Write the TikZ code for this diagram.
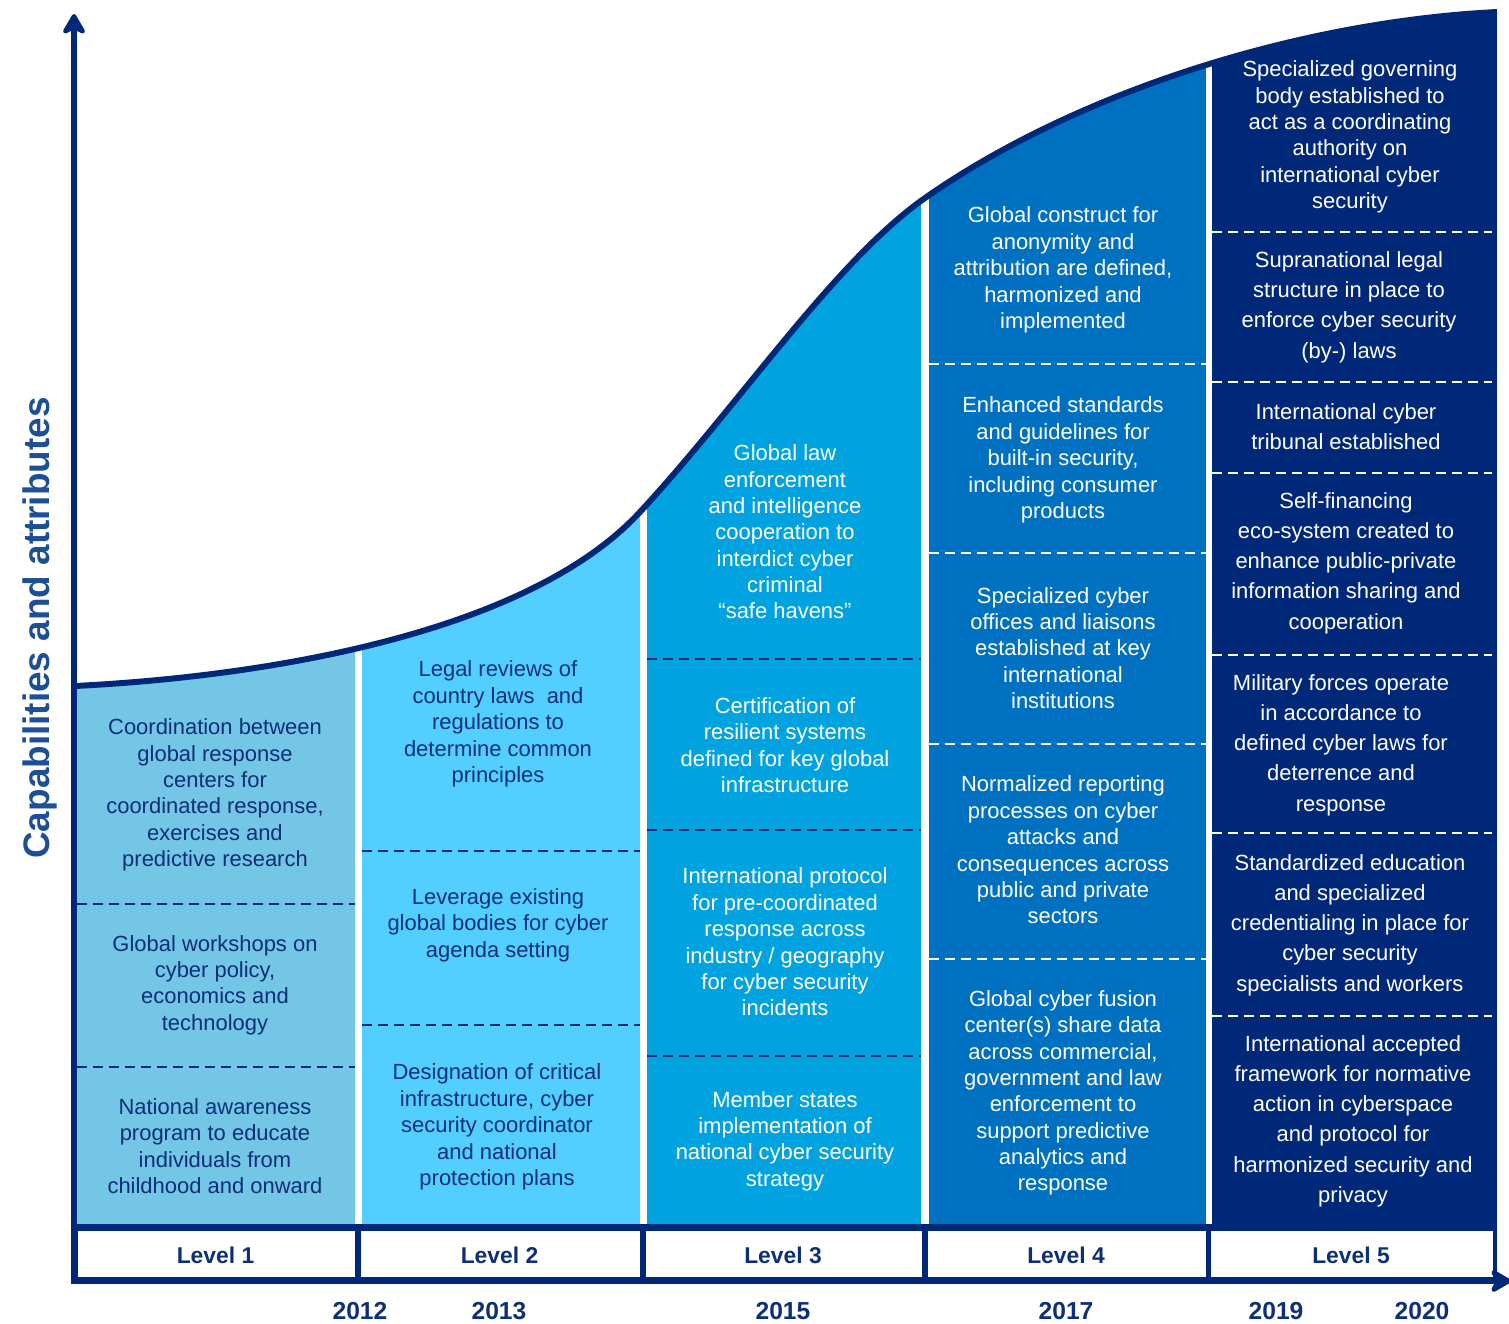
\documentclass[tikz,border=0pt]{standalone}
\usepackage{fontspec}
\setsansfont{Liberation Sans}
\usetikzlibrary{arrows.meta}
\definecolor{navy}{HTML}{002878}
\definecolor{lvone}{HTML}{73C6E5}
\definecolor{lvtwo}{HTML}{53CFFF}
\definecolor{lvthree}{HTML}{00A3E0}
\definecolor{lvfour}{HTML}{0070C0}
\definecolor{ink}{HTML}{0D2F78}
\definecolor{ylab}{HTML}{1C4F95}
\tikzset{every picture/.style={/utils/exec={\sffamily}}}
\tikzset{
  item/.style={align=center, inner sep=0pt, font=\fontsize{12.5}{15}\selectfont, text=ink},
  witem/.style={item, text=white},
  wide/.style={font=\fontsize{12.5}{17.2}\selectfont},
  sep/.style={line width=1.7pt, dash pattern=on 5.7pt off 3.4pt},
  axis/.style={navy, line width=3.4pt, -{Stealth[length=14pt, width=16pt, inset=4pt, round]}},
  lvl/.style={font=\bfseries\fontsize{13}{15}\selectfont, text=ink},
  yr/.style={font=\bfseries\fontsize{14}{16}\selectfont, text=ink},
}
\newcommand\capcurve{(75,686) .. controls (275,676) and (530,631) .. (640,512)
  .. controls (740,404) and (835,261) .. (925,198)
  .. controls (1075,93) and (1297,22) .. (1497,12)}

\begin{document}
\begin{tikzpicture}[x=0.02cm, y=-0.02cm]
    \useasboundingbox (0,0) rectangle (1509,1324);
    \begin{scope}
        \clip \capcurve -- (1497,1224) -- (75,1224) -- cycle;
        \fill [lvone] (77,0) rectangle (355,1224);
        \fill [lvtwo] (362,0) rectangle (640,1224);
        \fill [lvthree] (647,0) rectangle (921,1224);
        \fill [lvfour] (929,0) rectangle (1206,1224);
        \fill [navy] (1212,0) rectangle (1497,1224);
    \end{scope}
    \draw [navy, line width=3.4pt] \capcurve;

    \foreach \a/\b/\y in {77/355/904, 77/355/1067, 362/640/851, 362/640/1025,
        647/921/659, 647/921/830, 647/921/1056}
        \draw [sep, navy] (\a,\y) -- (\b,\y);
    \foreach \a/\b/\y in {929/1206/364, 929/1206/553, 929/1206/744, 929/1206/959,
        1212/1492/232, 1212/1492/382, 1212/1492/473, 1212/1492/655, 1212/1492/833, 1212/1492/1016}
        \draw [sep, white] (\a,\y) -- (\b,\y);

    \fill [navy] (74,1224) rectangle (1497,1284);
    \foreach \l/\a/\b in {1/78/355, 2/361/640, 3/646/922, 4/928/1206, 5/1211/1493} {
        \fill [white] (\a,1231) rectangle (\b,1277);
        \node [lvl] (lvl\l) at ({(\a+\b)/2-1},1255) {Level~\l};
    }
    \coordinate (O) at (74,1281);
    \draw [axis] (74,1284) -- (74,14) coordinate (ytop);
    \draw [axis] (O) -- (1511,1281) coordinate (xend);

    \foreach \yr/\x in {2012/360, 2013/499, 2015/783, 2017/1066, 2019/1276, 2020/1422}
        \node [yr] (y\yr) at (\x,1311) {\yr};

    \node [rotate=90, font=\bfseries\fontsize{21}{24}\selectfont, text=ylab] (ylabel) at (40,628) {Capabilities and attributes};

    \node [item] (a1) at (215,795) {Coordination between\\global response\\centers for\\coordinated response,\\exercises and\\predictive research};
    \node [item] (a2) at (215,985) {Global workshops on\\cyber policy,\\economics and\\technology};
    \node [item] (a3) at (215,1146) {National awareness\\program to educate\\individuals from\\childhood and onward};

    \node [item] (b1) at (498,724) {Legal reviews of\\country laws\ \ and\\regulations to\\determine common\\principles};
    \node [item] (b2) at (498,925) {Leverage existing\\global bodies for cyber\\agenda setting};
    \node [item] (b3) at (497,1127) {Designation of critical\\infrastructure, cyber\\security coordinator\\and national\\protection plans};

    \node [witem] (c1) at (785,532) {Global law\\enforcement\\and intelligence\\cooperation to\\interdict cyber\\criminal\\“safe havens”};
    \node [witem] (c2) at (785,745) {Certification of\\resilient systems\\defined for key global\\infrastructure};
    \node [witem] (c3) at (785,942) {International protocol\\for pre-coordinated\\response across\\industry / geography\\for cyber security\\incidents};
    \node [witem] (c4) at (785,1141) {Member states\\implementation of\\national cyber security\\strategy};

    \node [witem] (d1) at (1063,270) {Global construct for\\anonymity and\\attribution are defined,\\harmonized and\\implemented};
    \node [witem] (d2) at (1063,460) {Enhanced standards\\and guidelines for\\built-in security,\\including consumer\\products};
    \node [witem] (d3) at (1063,648) {Specialized cyber\\offices and liaisons\\established at key\\international\\institutions};
    \node [witem] (d4) at (1063,850) {Normalized reporting\\processes on cyber\\attacks and\\consequences across\\public and private\\sectors};
    \node [witem] (d5) at (1063,1093) {Global cyber fusion\\center(s) share data\\across commercial,\\government and law\\enforcement to\\support predictive\\analytics and\\response};

    \node [witem] (e1) at (1350,137) {Specialized governing\\body established to\\act as a coordinating\\authority on\\international cyber\\security};
    \node [witem, wide] (e2) at (1349,307) {Supranational legal\\structure in place to\\enforce cyber security\\(by-) laws};
    \node [witem, wide] (e3) at (1346,427) {International cyber\\tribunal established};
    \node [witem, wide] (e4) at (1346,563) {Self-financing\\eco-system created to\\enhance public-private\\information sharing and\\cooperation};
    \node [witem, wide] (e5) at (1341,745) {Military forces operate\\in accordance to\\defined cyber laws for\\deterrence and\\response};
    \node [witem, wide] (e6) at (1350,925) {Standardized education\\and specialized\\credentialing in place for\\cyber security\\specialists and workers};
    \node [witem, wide] (e7) at (1353,1121) {International accepted\\framework for normative\\action in cyberspace\\and protocol for\\harmonized security and\\privacy};
\end{tikzpicture}
\end{document}
